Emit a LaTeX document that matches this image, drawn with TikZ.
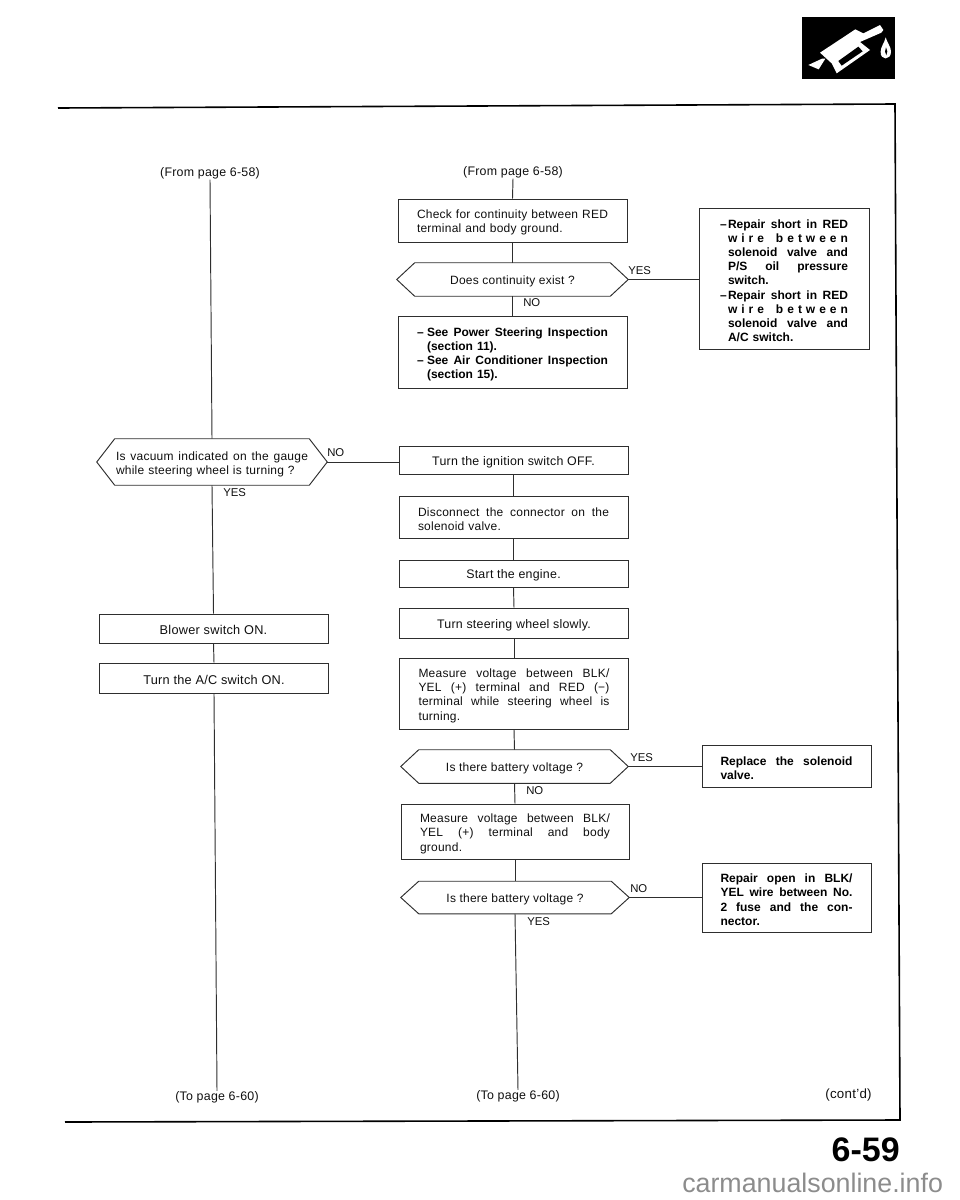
\documentclass[tikz,border=0pt]{standalone}
\usepackage{fontspec}
\setmainfont[LetterSpace=2]{Liberation Sans}
\newfontfamily\plainsans{Liberation Sans}
\newdimen\pxu \pxu=0.75pt
\newcommand{\jl}[2]{\makebox[#1\pxu][s]{\spaceskip=0.28em plus 1fil minus 0.08em\relax #2}}
\newcommand{\dashline}[1]{\makebox[8\pxu][l]{–}\jl{120}{#1}}
\newcommand{\indline}[1]{\hspace*{8\pxu}\jl{120}{#1}}
\newcommand{\hexoutline}[1]{\draw[ink] (#1.west) -- ([xshift=18\pxu]#1.north west) -- ([xshift=-18\pxu]#1.north east) -- (#1.east) -- ([xshift=-18\pxu]#1.south east) -- ([xshift=18\pxu]#1.south west) -- cycle;}
\tikzset{
  ink/.style={line width=0.95\pxu, draw=black!82},
  lowered/.style={execute at begin node={\rule{0pt}{13\pxu}}},
  flowbox/.style={ink, rectangle, inner sep=0pt, align=left, text=black!94, lowered,
     font=\fontsize{9}{10.7}\selectfont},
  onebox/.style={flowbox, align=center, font=\fontsize{9.3}{10.7}\selectfont},
  boldbox/.style={flowbox, font=\plainsans\fontsize{9}{10.6}\selectfont\bfseries, text=black},
  decision/.style={rectangle, inner sep=0pt, align=left, text=black!94, lowered,
     font=\fontsize{9}{10.7}\selectfont},
  conn/.style={ink},
  lab/.style={anchor=west, inner sep=0pt, text=black!94, font=\plainsans\fontsize{8.5}{10}\selectfont},
  pageref/.style={inner sep=0pt, text=black!94, font=\fontsize{9.3}{11}\selectfont},
}
\begin{document}
\begin{tikzpicture}[x=0.75pt,y=-0.75pt]
\useasboundingbox (0,0) rectangle (960,1200);

% printed frame
\draw[line width=1.6\pxu, black] (58,108) -- (895,104) -- (900,1120) -- (65,1122);

% pump icon
\fill[black] (802,17) rectangle (895,79);
\begin{scope}[shift={(780,10)},scale=1/3]
\fill[white] (85,165) -- (126,146) -- (136,146) -- (116,178) -- cycle;
\fill[white] (120,128) -- (205,72) -- (226,58) -- (250,70) -- (300,45) -- (310,60) -- (304,68) -- (265,85) -- (240,96) -- (270,120) -- (170,190) -- (155,160) -- cycle;
\fill[black] (175,153) -- (235,110) -- (248,124) -- (185,167) -- cycle;
\fill[white] (317,82) .. controls (322,100) and (333,110) .. (333,125) .. controls (333,152) and (300,152) .. (302,125) .. controls (302,110) and (313,100) .. (317,82) -- cycle;
\fill[black] (318,112) .. controls (322,120) and (324,128) .. (319,136) .. controls (314,130) and (314,120) .. (318,112) -- cycle;
\end{scope}

% page references
\node[pageref] (fromL) at (210,173.5) {(From page 6-58)};
\node[pageref] (fromC) at (513,172.5) {(From page 6-58)};
\node[pageref] (toL) at (217,1097) {(To page 6-60)};
\node[pageref] (toC) at (518,1096) {(To page 6-60)};
\node[pageref, font=\fontsize{10}{11}\selectfont] (contd) at (848.5,1095) {(cont'd)};

% left column
\node[decision, minimum width=230\pxu, minimum height=46\pxu, text width=192\pxu] (hL) at (212,462)
  {\jl{192}{Is vacuum indicated on the gauge}\\while steering wheel is turning ?};
\node[onebox, font=\fontsize{9.55}{10.7}\selectfont, minimum width=229\pxu, minimum height=29\pxu] (blower) at (213.5,628.5) {Blower switch ON.};
\node[onebox, font=\fontsize{9.55}{10.7}\selectfont, minimum width=229\pxu, minimum height=30\pxu] (ac) at (214,678) {Turn the A/C switch ON.};

% centre column
\node[flowbox, minimum width=229\pxu, minimum height=43\pxu, text width=191\pxu] (b1) at (512.5,220.5)
  {\jl{191}{Check for continuity between RED}\\terminal and body ground.};
\node[decision, minimum width=231\pxu, minimum height=33\pxu, align=center] (h1) at (512.5,279.5) {Does continuity exist ?};
\node[boldbox, minimum width=229\pxu, minimum height=72\pxu, text width=191\pxu] (b2) at (512.5,352)
  {\makebox[10\pxu][l]{–}\jl{181}{See Power Steering Inspection}\\\hspace*{10\pxu}(section 11).\\\makebox[10\pxu][l]{–}\jl{181}{See Air Conditioner Inspection}\\\hspace*{10\pxu}(section 15).};
\node[onebox, minimum width=229\pxu, minimum height=28\pxu] (b3) at (513.5,460.5) {Turn the ignition switch OFF.};
\node[flowbox, minimum width=229\pxu, minimum height=42\pxu, text width=191\pxu] (b4) at (513.5,517)
  {\jl{191}{Disconnect the connector on the}\\solenoid valve.};
\node[onebox, minimum width=229\pxu, minimum height=27\pxu] (b5) at (513.5,573.5) {Start the engine.};
\node[onebox, minimum width=229\pxu, minimum height=30\pxu] (b6) at (514,623) {Turn steering wheel slowly.};
\node[flowbox, minimum width=229\pxu, minimum height=71\pxu, text width=191\pxu] (b7) at (514,693.5)
  {\jl{191}{Measure voltage between BLK/}\\\jl{191}{YEL (+) terminal and RED (−)}\\\jl{191}{terminal while steering wheel is}\\turning.};
\node[decision, minimum width=227\pxu, minimum height=33\pxu, align=center] (h2) at (514.5,766.5) {Is there battery voltage ?};
\node[flowbox, minimum width=228\pxu, minimum height=55\pxu, text width=190\pxu] (b8) at (515,831.5)
  {\jl{190}{Measure voltage between BLK/}\\\jl{190}{YEL (+) terminal and body}\\ground.};
\node[decision, minimum width=228\pxu, minimum height=32\pxu, align=center] (h3) at (515,897.5) {Is there battery voltage ?};

% right column
\node[boldbox, minimum width=170\pxu, minimum height=141\pxu, text width=128\pxu] (r1) at (784,278.5)
  {\dashline{Repair short in RED}\\
   \indline{w\hfil i\hfil r\hfil e\hfil\hfil\hfil b\hfil e\hfil t\hfil w\hfil e\hfil e\hfil n}\\
   \indline{solenoid valve and}\\
   \indline{P/S oil pressure}\\
   \hspace*{8\pxu}switch.\\
   \dashline{Repair short in RED}\\
   \indline{w\hfil i\hfil r\hfil e\hfil\hfil\hfil b\hfil e\hfil t\hfil w\hfil e\hfil e\hfil n}\\
   \indline{solenoid valve and}\\
   \hspace*{8\pxu}A/C switch.};
\node[boldbox, minimum width=169\pxu, minimum height=42\pxu, text width=132\pxu] (r2) at (786.5,766)
  {\jl{132}{Replace the solenoid}\\valve.};
\node[boldbox, minimum width=169\pxu, minimum height=69\pxu, text width=132\pxu] (r3) at (786.5,897.5)
  {\jl{132}{Repair open in BLK/}\\\jl{132}{YEL wire between No.}\\\jl{132}{2 fuse and the con-}\\nector.};

% decision outlines
\hexoutline{hL}
\hexoutline{h1}
\hexoutline{h2}
\hexoutline{h3}

% connectors, left column
\draw[conn] (fromL.south) -- (hL.north);
\draw[conn] (hL.south) -- (blower.north);
\draw[conn] (blower.south) -- (ac.north);
\draw[conn] (ac.south) -- (toL.north);
\draw[conn] (hL.east) -- (hL.east -| b3.west);

% connectors, centre column
\draw[conn] (fromC.south) -- (b1.north);
\draw[conn] (b1.south) -- (h1.north);
\draw[conn] (h1.south) -- (b2.north);
\draw[conn] (b3.south) -- (b4.north);
\draw[conn] (b4.south) -- (b5.north);
\draw[conn] (b5.south) -- (b6.north);
\draw[conn] (b6.south) -- (b7.north);
\draw[conn] (b7.south) -- (h2.north);
\draw[conn] (h2.south) -- (b8.north);
\draw[conn] (b8.south) -- (h3.north);
\draw[conn] (h3.south) -- (toC.north);

% connectors to the right
\draw[conn] (h1.east) -- (h1.east -| r1.west);
\draw[conn] (h2.east) -- (h2.east -| r2.west);
\draw[conn] (h3.east) -- (h3.east -| r3.west);

% branch labels
\node[lab] (lYes1) at (628,271) {YES};
\node[lab] (lNo1) at (523,303) {NO};
\node[lab] (lNoL) at (327,453) {NO};
\node[lab] (lYesL) at (223,493) {YES};
\node[lab] (lYes2) at (630,758) {YES};
\node[lab] (lNo2) at (526,791) {NO};
\node[lab] (lNo3) at (630,889) {NO};
\node[lab] (lYes3) at (527,922) {YES};

% page number and site mark
\node[anchor=east, inner sep=0pt, font=\plainsans\fontsize{25.5}{28}\selectfont\bfseries] (pageno) at (900,1150) {6-59};
\node[anchor=west, inner sep=0pt, text=black!45, font=\plainsans\fontsize{20.1}{24}\selectfont] (mark) at (682,1183) {carmanualsonline.info};
\end{tikzpicture}
\end{document}
